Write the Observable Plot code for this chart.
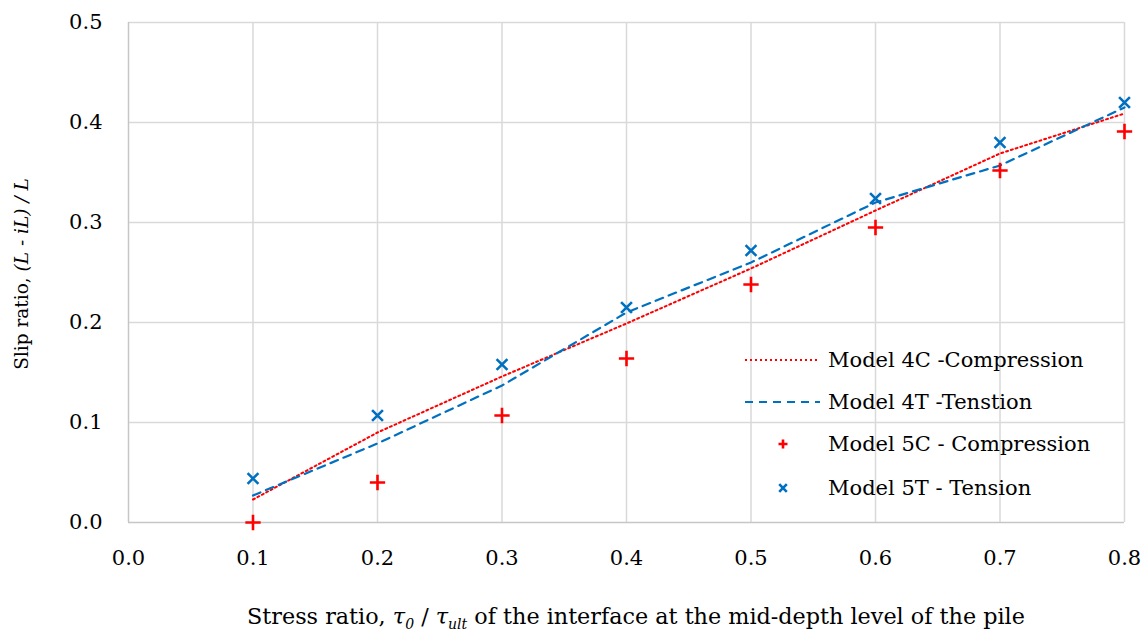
<!DOCTYPE html>
<html>
<head>
<meta charset="utf-8">
<script src="https://cdn.jsdelivr.net/npm/d3@7"></script>
<script src="https://cdn.jsdelivr.net/npm/@observablehq/plot@0.6"></script>
<style>
  html, body { margin: 0; padding: 0; background: #fff; }
  #chart { width: 1143px; height: 634px; }
</style>
</head>
<body>
<div id="chart"></div>
<script>
// ---- data ----
const stressRatio = [0.1, 0.2, 0.3, 0.4, 0.5, 0.6, 0.7, 0.8];
const model4C = [0.023, 0.090, 0.146, 0.199, 0.254, 0.312, 0.369, 0.409]; // dotted red line
const model4T = [0.027, 0.079, 0.137, 0.210, 0.260, 0.320, 0.357, 0.415]; // dashed blue line
const model5C = [0.000, 0.040, 0.107, 0.164, 0.238, 0.295, 0.352, 0.391]; // red plus
const model5T = [0.044, 0.107, 0.158, 0.215, 0.272, 0.324, 0.380, 0.420]; // blue times
const xTicks = [0, 0.1, 0.2, 0.3, 0.4, 0.5, 0.6, 0.7, 0.8];
const yTicks = [0, 0.1, 0.2, 0.3, 0.4, 0.5];
const seriesNames = ["Model 4C -Compression", "Model 4T -Tenstion", "Model 5C - Compression", "Model 5T - Tension"];

const RED = "#ff0000", BLUE = "#0070c0";
const FONT = "'DejaVu Serif', serif";
const FS = 21;
const fmt = d3.format(".1f");

const rows = (ys) => stressRatio.map((x, i) => ({x, y: ys[i]}));

const chart = Plot.plot({
  width: 1143,
  height: 634,
  marginLeft: 128,
  marginRight: 19,
  marginTop: 22,
  marginBottom: 112,
  style: {fontFamily: FONT, fontSize: FS + "px", color: "#000", background: "#fff"},
  x: {domain: [0, 0.8], ticks: xTicks, tickFormat: fmt, label: null},
  y: {domain: [0, 0.5], ticks: yTicks, tickFormat: fmt, label: null},
  marks: [
    Plot.gridX(xTicks.filter(d => d > 0), {stroke: "#d9d9d9", strokeOpacity: 1, strokeWidth: 1.5}),
    Plot.gridY(yTicks.filter(d => d > 0), {stroke: "#d9d9d9", strokeOpacity: 1, strokeWidth: 1.5}),
    Plot.ruleX([0], {stroke: "#c6c6c6", strokeWidth: 1.5}),
    Plot.ruleY([0], {stroke: "#c6c6c6", strokeWidth: 1.5}),
    Plot.line(rows(model4C), {x: "x", y: "y", stroke: RED, strokeWidth: 2, strokeDasharray: "2,3"}),
    Plot.line(rows(model4T), {x: "x", y: "y", stroke: BLUE, strokeWidth: 2.2, strokeDasharray: "8,6"}),
    Plot.dot(rows(model5C), {x: "x", y: "y", symbol: "plus", stroke: RED, r: 5, strokeWidth: 2.6}),
    Plot.dot(rows(model5T), {x: "x", y: "y", symbol: "times", stroke: BLUE, r: 5, strokeWidth: 2.6}),
    Plot.axisX(xTicks, {tickSize: 0, tickPadding: 28, fontSize: FS, tickFormat: fmt, label: null}),
    Plot.axisY(yTicks, {tickSize: 0, tickPadding: 26, fontSize: FS, tickFormat: fmt, label: null})
  ]
});

document.getElementById("chart").appendChild(chart);

const svg = d3.select(chart);

// y-axis title
const yt = svg.append("text")
  .attr("transform", "translate(28,274) rotate(-90)")
  .attr("text-anchor", "middle")
  .attr("font-family", FONT).attr("font-size", 18.5).attr("fill", "#000");
yt.append("tspan").text("Slip ratio, ");
yt.append("tspan").attr("font-style", "italic").text("(L - iL) / L");

// x-axis title
const xt = svg.append("text")
  .attr("x", 636).attr("y", 624)
  .attr("text-anchor", "middle")
  .attr("font-family", FONT).attr("font-size", 22.3).attr("fill", "#000");
xt.append("tspan").text("Stress ratio, ");
xt.append("tspan").attr("font-style", "italic").text("τ");
xt.append("tspan").attr("font-style", "italic").attr("font-size", 14).attr("dy", 5).text("0");
xt.append("tspan").attr("dy", -5).text(" / ");
xt.append("tspan").attr("font-style", "italic").text("τ");
xt.append("tspan").attr("font-style", "italic").attr("font-size", 14).attr("dy", 5).text("ult");
xt.append("tspan").attr("dy", -5).text(" of the interface at the mid-depth level of the pile");

// legend
const lg = svg.append("g").attr("font-family", FONT).attr("font-size", FS).attr("text-anchor", "start");
const rowY = [360, 402, 444, 488];
const lx0 = 745, lx1 = 820, tx = 828;
lg.append("line").attr("x1", lx0).attr("x2", lx1).attr("y1", rowY[0]).attr("y2", rowY[0])
  .attr("stroke", RED).attr("stroke-width", 2).attr("stroke-dasharray", "2,3");
lg.append("line").attr("x1", lx0).attr("x2", lx1).attr("y1", rowY[1]).attr("y2", rowY[1])
  .attr("stroke", BLUE).attr("stroke-width", 2.2).attr("stroke-dasharray", "8,6");
const mx = 783;
lg.append("path").attr("d", `M${mx-4.5},${rowY[2]}h9M${mx},${rowY[2]-4.5}v9`)
  .attr("stroke", RED).attr("stroke-width", 2.6).attr("fill", "none");
lg.append("path").attr("d", `M${mx-3.8},${rowY[3]-3.8}l7.6,7.6M${mx-3.8},${rowY[3]+3.8}l7.6,-7.6`)
  .attr("stroke", BLUE).attr("stroke-width", 2.6).attr("fill", "none");
seriesNames.forEach((name, i) => {
  lg.append("text").attr("x", tx).attr("y", rowY[i]).attr("dy", "0.35em").attr("fill", "#000").text(name);
});
</script>
</body>
</html>
